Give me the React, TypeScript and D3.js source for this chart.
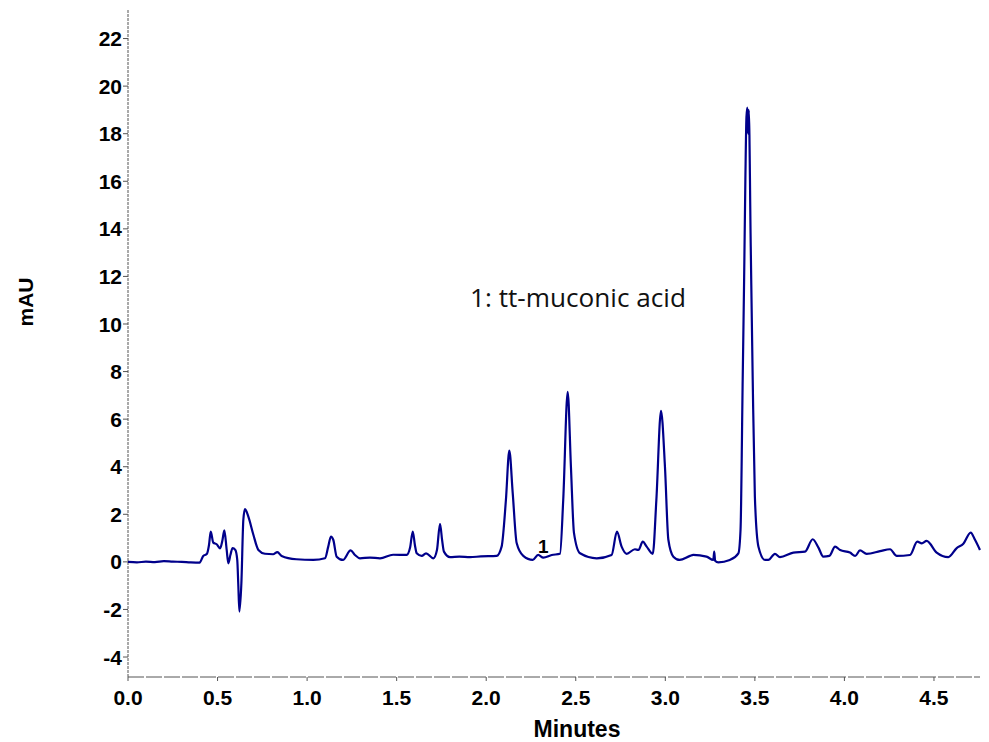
import * as d3 from "d3"
import { useRef, useEffect } from "react"

// retention time (minutes) and absorbance (mAU)
const minutes = [
  0.0, 0.05, 0.1, 0.15, 0.2, 0.25, 0.3, 0.35, 0.4, 0.42, 0.44, 0.452, 0.462, 0.476, 0.495, 0.514, 0.527,
  0.538, 0.551, 0.56, 0.572, 0.584, 0.599, 0.61, 0.616, 0.622, 0.633, 0.644, 0.653, 0.672, 0.7, 0.728,
  0.765, 0.81, 0.834, 0.858, 0.94, 1.035, 1.1, 1.118, 1.133, 1.146, 1.165, 1.2, 1.243, 1.267, 1.295,
  1.351, 1.407, 1.48, 1.556, 1.575, 1.59, 1.602, 1.612, 1.64, 1.664, 1.705, 1.725, 1.742, 1.754, 1.764,
  1.798, 1.85, 1.91, 1.97, 2.058, 2.086, 2.11, 2.129, 2.148, 2.17, 2.207, 2.26, 2.29, 2.319, 2.366,
  2.412, 2.43, 2.455, 2.473, 2.49, 2.524, 2.617, 2.7, 2.73, 2.756, 2.784, 2.83, 2.85, 2.874, 2.896,
  2.93, 2.95, 2.976, 2.998, 3.017, 3.045, 3.08, 3.138, 3.156, 3.23, 3.268, 3.273, 3.278, 3.296, 3.36,
  3.408, 3.42, 3.432, 3.44, 3.447, 3.453, 3.458, 3.462, 3.466, 3.477, 3.488, 3.5, 3.52, 3.557, 3.575,
  3.612, 3.64, 3.715, 3.78, 3.823, 3.855, 3.882, 3.916, 3.948, 3.976, 4.031, 4.06, 4.087, 4.124, 4.199,
  4.255, 4.292, 4.366, 4.407, 4.432, 4.459, 4.515, 4.58, 4.627, 4.664, 4.705, 4.729, 4.757,
]
const mAU = [
  0.0, -0.02, 0.01, -0.01, 0.03, 0.01, 0.0, -0.02, -0.03, 0.25, 0.33, 0.7, 1.27, 0.81, 0.74, 0.57, 0.9,
  1.32, 0.5, -0.06, 0.3, 0.58, 0.5, 0.08, -1.0, -2.09, -0.9, 1.77, 2.22, 1.9, 1.14, 0.5,
  0.34, 0.32, 0.41, 0.25, 0.11, 0.08, 0.15, 0.64, 1.06, 0.93, 0.22, 0.08, 0.48, 0.29, 0.15,
  0.18, 0.15, 0.3, 0.29, 0.6, 1.27, 0.7, 0.36, 0.25, 0.36, 0.15, 0.5, 1.6, 0.9, 0.43,
  0.2, 0.22, 0.2, 0.23, 0.25, 0.64, 2.6, 4.68, 2.89, 0.79, 0.25, 0.08, 0.29, 0.18, 0.29,
  0.34, 2.6, 7.15, 4.0, 1.22, 0.36, 0.15, 0.29, 1.27, 0.64, 0.34, 0.53, 0.5, 0.85, 0.64,
  0.34, 2.6, 6.35, 4.0, 0.93, 0.22, 0.08, 0.25, 0.29, 0.22, 0.08, 0.43, 0.05, -0.02, 0.08,
  0.36, 1.35, 7.66, 11.86, 16.07, 18.7, 19.1, 18.0, 19.0, 13.26, 7.66, 2.75, 0.64, 0.08, 0.08,
  0.34, 0.2, 0.39, 0.43, 0.95, 0.6, 0.22, 0.25, 0.64, 0.5, 0.39, 0.25, 0.48, 0.34, 0.45,
  0.53, 0.25, 0.29, 0.85, 0.78, 0.88, 0.39, 0.2, 0.58, 0.76, 1.23, 0.93, 0.5,
]
const xTicks = [0, 0.5, 1, 1.5, 2, 2.5, 3, 3.5, 4, 4.5]
const yTicks = [-4, -2, 0, 2, 4, 6, 8, 10, 12, 14, 16, 18, 20, 22]
const peakLabels = [{ t: 2.318, v: 0.35, label: "1" }]

const Chromatogram = () => {
  const svgRef = useRef()
  const width = 989
  const height = 742
  const left = 128
  const right = 980
  const top = 10
  const bottom = 677

  useEffect(() => {
    const svg = d3.select(svgRef.current)
    svg.selectAll("*").remove()

    const x = d3.scaleLinear().domain([0, 4.757]).range([left, right])
    const y = d3.scaleLinear().domain([-4.84, 23.2]).range([bottom, top])
    const tickFont = "'Liberation Sans', Arial, sans-serif"

    // y axis
    svg
      .append("line")
      .attr("x1", left).attr("x2", left)
      .attr("y1", top).attr("y2", bottom)
      .attr("stroke", "#555")
      .attr("stroke-width", 1)
      .attr("stroke-dasharray", "3,1")
    svg
      .selectAll(".ytick")
      .data(yTicks)
      .join("line")
      .attr("class", "ytick")
      .attr("x1", left - 5).attr("x2", left)
      .attr("y1", (d) => y(d)).attr("y2", (d) => y(d))
      .attr("stroke", "#555")
    svg
      .selectAll(".ylab")
      .data(yTicks)
      .join("text")
      .attr("class", "ylab")
      .attr("x", left - 6)
      .attr("y", (d) => y(d))
      .attr("dy", "0.36em")
      .attr("text-anchor", "end")
      .attr("font-family", tickFont)
      .attr("font-weight", "bold")
      .attr("font-size", "21px")
      .text((d) => d)

    // x axis
    svg
      .append("line")
      .attr("x1", left).attr("x2", right)
      .attr("y1", bottom).attr("y2", bottom)
      .attr("stroke", "#555")
      .attr("stroke-width", 1)
      .attr("stroke-dasharray", "16,2")
    svg
      .selectAll(".xtick")
      .data(xTicks)
      .join("line")
      .attr("class", "xtick")
      .attr("x1", (d) => x(d)).attr("x2", (d) => x(d))
      .attr("y1", bottom).attr("y2", bottom + 4)
      .attr("stroke", "#555")
    svg
      .selectAll(".xlab")
      .data(xTicks)
      .join("text")
      .attr("class", "xlab")
      .attr("x", (d) => x(d))
      .attr("y", 705)
      .attr("text-anchor", "middle")
      .attr("font-family", tickFont)
      .attr("font-weight", "bold")
      .attr("font-size", "21px")
      .text((d) => d.toFixed(1))

    // axis titles
    svg
      .append("text")
      .attr("x", 577)
      .attr("y", 737)
      .attr("text-anchor", "middle")
      .attr("font-family", tickFont)
      .attr("font-weight", "bold")
      .attr("font-size", "23px")
      .text("Minutes")
    svg
      .append("text")
      .attr("transform", `translate(33, 302) rotate(-90)`)
      .attr("text-anchor", "middle")
      .attr("font-family", tickFont)
      .attr("font-weight", "bold")
      .attr("font-size", "21px")
      .text("mAU")

    // trace
    const points = minutes.map((t, i) => [t, mAU[i]])
    const line = d3
      .line()
      .x((d) => x(d[0]))
      .y((d) => y(d[1]))
      .curve(d3.curveMonotoneX)
    svg
      .append("path")
      .datum(points)
      .attr("d", line)
      .attr("fill", "none")
      .attr("stroke", "#00008B")
      .attr("stroke-width", 2.2)
      .attr("stroke-linejoin", "round")

    // peak number
    svg
      .selectAll(".peak")
      .data(peakLabels)
      .join("text")
      .attr("class", "peak")
      .attr("x", (d) => x(d.t))
      .attr("y", (d) => y(d.v) - 1)
      .attr("text-anchor", "middle")
      .attr("font-family", tickFont)
      .attr("font-weight", "bold")
      .attr("font-size", "19px")
      .text((d) => d.label)

    // compound legend
    svg
      .append("text")
      .attr("x", 470)
      .attr("y", 307)
      .attr("font-family", "'Open Sans', sans-serif")
      .attr("font-size", "25px")
      .attr("textLength", 216)
      .attr("lengthAdjust", "spacingAndGlyphs")
      .attr("fill", "#111")
      .text("1: tt-muconic acid")
  }, [])

  return (
    <svg
      ref={svgRef}
      width={width}
      height={height}
      style={{ position: "absolute", left: 0, top: 0, background: "#fff" }}
    ></svg>
  )
}

export default function App() {
  return <Chromatogram />
}
